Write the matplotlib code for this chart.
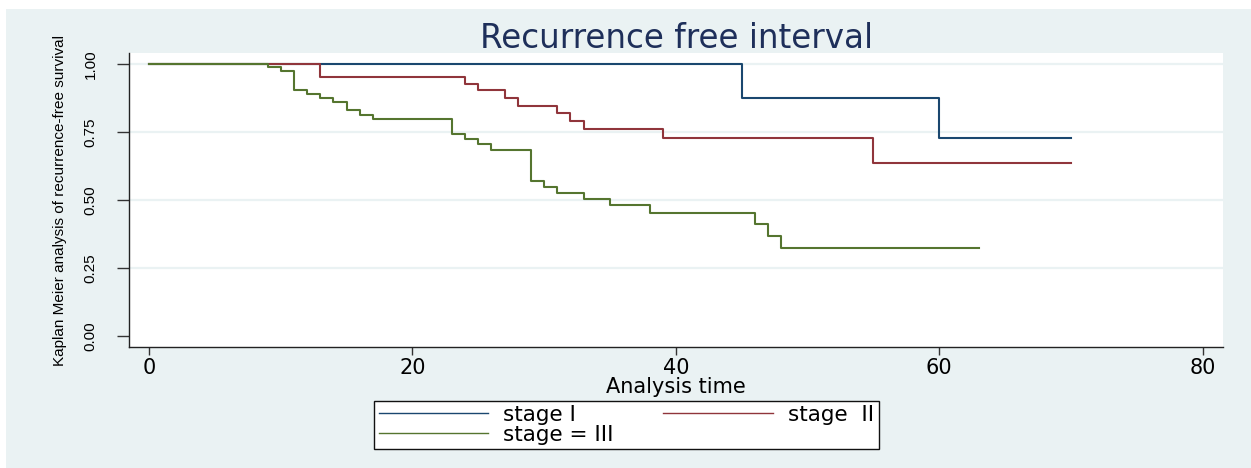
import matplotlib
matplotlib.use("Agg")
import matplotlib.pyplot as plt
from matplotlib.patches import Rectangle

# --- data ------------------------------------------------------------------

t_stage1 = [0, 45, 60, 70]
s_stage1 = [1.0, 0.875, 0.729, 0.729]

t_stage2 = [0, 13, 24, 25, 27, 28, 31, 32, 33, 39, 55, 70]
s_stage2 = [1.0, 0.953, 0.928, 0.903, 0.876, 0.847, 0.819, 0.790, 0.761,
            0.727, 0.636, 0.636]

t_stage3 = [0, 9, 10, 11, 12, 13, 14, 15, 16, 17, 23, 24, 25, 26, 29, 30,
            31, 33, 35, 38, 46, 47, 48, 63]
s_stage3 = [1.0, 0.988, 0.974, 0.903, 0.889, 0.875, 0.859, 0.831, 0.814,
            0.799, 0.744, 0.726, 0.705, 0.683, 0.570, 0.548, 0.526, 0.502,
            0.480, 0.451, 0.411, 0.369, 0.322, 0.322]

labels = ["stage I", "stage  II", "stage = III"]
x_ticks = [0, 20, 40, 60, 80]
y_ticks = [0.00, 0.25, 0.50, 0.75, 1.00]

# --- style -----------------------------------------------------------------

BG = "#EAF2F3"
NAVY = "#1A476F"
MAROON = "#90353B"
GREEN = "#55752F"
W, H = 1251, 468
NARROW = ["Liberation Sans", "DejaVu Sans"]

fig = plt.figure(figsize=(W / 100, H / 100), dpi=100, facecolor="white")
fig.patches.append(Rectangle((6 / W, 0), 1, (H - 9) / H,
                             transform=fig.transFigure, facecolor=BG,
                             edgecolor="none", zorder=-10))

ax = fig.add_axes([129 / W, 1 - 347 / H, (1222.7 - 129) / W, (347 - 53) / H])
ax.set_facecolor("white")

for s in ["top", "right"]:
    ax.spines[s].set_visible(False)
for s in ["left", "bottom"]:
    ax.spines[s].set_color("#222222")
    ax.spines[s].set_linewidth(1.0)

for y in y_ticks[1:]:
    ax.axhline(y, color=BG, linewidth=1.6, zorder=0)

curves = [(t_stage1, s_stage1, NAVY), (t_stage2, s_stage2, MAROON),
          (t_stage3, s_stage3, GREEN)]
handles = []
for (t, s, c), lab in zip(curves, labels):
    ln, = ax.plot(t, s, drawstyle="steps-post", color=c, linewidth=1.5,
                  label=lab, zorder=3)
    handles.append(ln)

ax.set_xlim(-1.52, 81.52)
ax.set_ylim(-0.0404, 1.0404)

ax.set_xticks(x_ticks)
ax.set_xticklabels([str(v) for v in x_ticks], fontsize=15,
                   family="DejaVu Sans")
ax.set_yticks(y_ticks)
ax.set_yticklabels([f"{v:.2f}" for v in y_ticks], rotation=90, va="center",
                   fontsize=11, family=NARROW)
ax.tick_params(axis="x", length=6, width=1, color="#333333", pad=2)
ax.tick_params(axis="y", length=8.6, width=1, color="#333333", pad=14)

ax.set_xlabel("Analysis time", fontsize=15, family="DejaVu Sans",
              labelpad=-1)
ax.set_ylabel("Kaplan Meier analysis of recurrence-free survival",
              fontsize=11, family=NARROW, labelpad=12)

fig.text(677 / W, 1 - 38 / H, "Recurrence free interval", ha="center",
         va="center", fontsize=23.5, color="#1E2F5A", family="DejaVu Sans")

# column-major fill: col 1 = stage I, stage = III ; col 2 = stage II
leg = fig.legend(handles=[handles[0], handles[2], handles[1]],
                 labels=[labels[0], labels[2], labels[1]], ncol=2,
                 loc="center", bbox_to_anchor=(626.5 / W, 1 - 425 / H),
                 prop={"family": "DejaVu Sans", "size": 15.5},
                 frameon=True, fancybox=False, framealpha=1,
                 handlelength=5.1, handletextpad=0.7, columnspacing=2.3,
                 labelspacing=0.0, borderpad=0.2, borderaxespad=0)
leg.get_frame().set_edgecolor("#111111")
leg.get_frame().set_facecolor("white")
leg.get_frame().set_linewidth(1.0)
for ln in leg.get_lines():
    ln.set_linewidth(1.0)

fig.savefig("out.png", dpi=100, facecolor=fig.get_facecolor())
